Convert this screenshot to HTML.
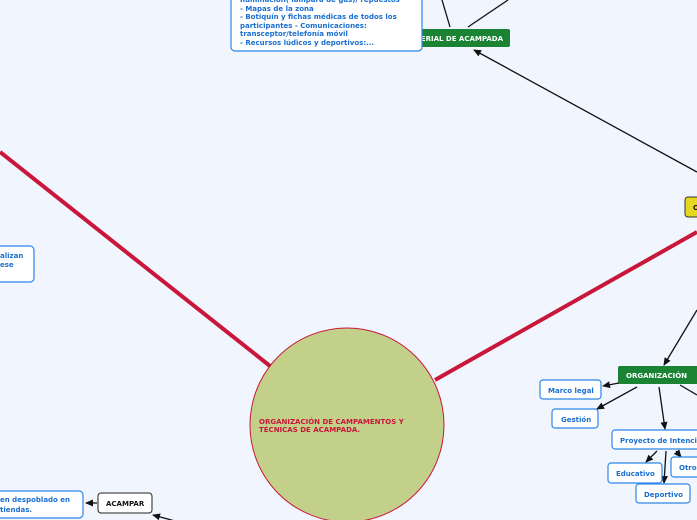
<!DOCTYPE html>
<html><head><meta charset="utf-8"><style>
html,body{margin:0;padding:0;background:#f1f5fe;}
svg{display:block;font-family:"DejaVu Sans","Liberation Sans",sans-serif;font-weight:bold;}
.b{fill:#fff;stroke:#2f86e8;stroke-width:1.2}
.t{fill:#1a6fd0;font-size:7px}
.a{stroke:#111;stroke-width:1.3;fill:none;marker-end:url(#ar)}
.l{stroke:#111;stroke-width:1.3}
</style></head><body>
<svg width="697" height="520" viewBox="0 0 697 520">
<defs><marker id="ar" markerWidth="8" markerHeight="8" refX="7" refY="4" orient="auto" markerUnits="userSpaceOnUse"><path d="M0,0.5 L8,4 L0,7.5z" fill="#111"/></marker></defs>
<rect width="697" height="520" fill="#f1f5fe"/>
<line x1="0" y1="152" x2="270" y2="366" stroke="#c8173a" stroke-width="4"/>
<line x1="435" y1="380" x2="697" y2="232" stroke="#c8173a" stroke-width="4"/>
<circle cx="347" cy="425" r="97" fill="#c2d08a" stroke="#c8173a" stroke-width="1"/>
<text x="259" y="424" fill="#c8173a" font-size="7px">ORGANIZACIÓN DE CAMPAMENTOS Y</text>
<text x="259" y="432" fill="#c8173a" font-size="7px">TÉCNICAS DE ACAMPADA.</text>
<line class="l" x1="450" y1="27" x2="442" y2="0"/>
<line class="l" x1="468" y1="27" x2="508" y2="0"/>
<line class="a" x1="697" y1="172" x2="474" y2="50"/>
<rect x="380" y="29" width="130" height="18" rx="2" fill="#1a8434"/>
<text x="503" y="41" fill="#fff" font-size="7px" text-anchor="end">MATERIAL DE ACAMPADA</text>
<rect class="b" x="231" y="-6" width="191" height="57" rx="4"/>
<g class="t"><text x="240" y="2">Iluminación( lámpara de gas)/ repuestos</text>
<text x="240" y="11">- Mapas de la zona</text>
<text x="240" y="19">- Botiquín y fichas médicas de todos los</text>
<text x="240" y="28">participantes - Comunicaciones:</text>
<text x="240" y="36">transceptor/telefonía móvil</text>
<text x="240" y="45">- Recursos lúdicos y deportivos:...</text></g>
<rect x="685" y="197" width="20" height="20" rx="3" fill="#e4d820" stroke="#333" stroke-width="1"/>
<text x="693" y="210" font-size="7px" fill="#111">O</text>
<line class="a" x1="697" y1="310" x2="664" y2="365"/>
<rect x="618" y="366" width="82" height="18" rx="2" fill="#1a8434"/>
<text x="626" y="378" fill="#fff" font-size="7px">ORGANIZACIÓN</text>
<line class="a" x1="619" y1="383" x2="603" y2="386"/>
<line class="a" x1="637" y1="387" x2="597" y2="409"/>
<line class="a" x1="659" y1="387" x2="665" y2="429"/>
<line class="l" x1="680" y1="385" x2="697" y2="395"/>
<rect class="b" x="540" y="380" width="61" height="19" rx="3"/><text class="t" x="548" y="393">Marco legal</text>
<rect class="b" x="552" y="409" width="46" height="19" rx="3"/><text class="t" x="561" y="422">Gestión</text>
<line class="a" x1="657" y1="451" x2="646" y2="462"/>
<line class="a" x1="666" y1="451" x2="664" y2="483"/>
<line class="a" x1="676" y1="451" x2="681" y2="457"/>
<rect class="b" x="612" y="430" width="100" height="19" rx="3"/><text class="t" x="620" y="443">Proyecto de Intención</text>
<rect class="b" x="608" y="463" width="54" height="20" rx="3"/><text class="t" x="616" y="476">Educativo</text>
<rect class="b" x="671" y="457" width="40" height="20" rx="3"/><text class="t" x="679" y="470">Otros</text>
<rect class="b" x="636" y="484" width="54" height="19" rx="3"/><text class="t" x="644" y="497">Deportivo</text>
<rect class="b" x="-10" y="246" width="44" height="36" rx="4"/>
<text class="t" x="0" y="258">alizan</text><text class="t" x="0" y="267">ese</text>
<line class="a" x1="97" y1="503" x2="86" y2="503"/>
<line class="a" x1="175" y1="521" x2="153" y2="515"/>
<rect x="98" y="493" width="54" height="20" rx="3" fill="#fff" stroke="#222" stroke-width="1"/>
<text x="106" y="506" font-size="7px" fill="#111">ACAMPAR</text>
<rect class="b" x="-6" y="491" width="89" height="27" rx="4"/>
<text class="t" x="0" y="502">en despoblado en</text><text class="t" x="0" y="512">tiendas.</text>
</svg>
</body></html>
